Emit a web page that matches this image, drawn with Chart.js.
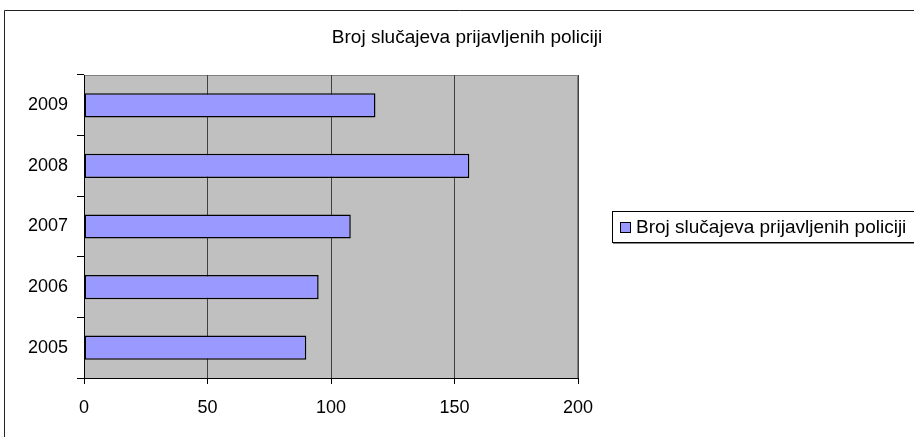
<!DOCTYPE html>
<html>
<head>
<meta charset="utf-8">
<script src="https://cdn.jsdelivr.net/npm/chart.js"></script>
<style>
  html, body { margin: 0; padding: 0; background: #fff; }
  #wrap { width: 914px; height: 437px; }
</style>
</head>
<body>
<div id="wrap"><canvas id="graf"></canvas></div>
<script>
// === Podaci ===
const naslov = "Broj slučajeva prijavljenih policiji";
const godine = ["2005", "2006", "2007", "2008", "2009"];
const slucajevi = [90, 95, 108, 156, 118];
const xTicks = [0, 50, 100, 150, 200];

const FONT = "Liberation Sans, Arial, sans-serif";

// pozadina i okvir (Excel stil)
const okvirPlugin = {
  id: "okvir",
  beforeDraw(chart) {
    const c = chart.ctx;
    const a = chart.chartArea;
    c.save();
    c.fillStyle = "#fff";
    c.fillRect(0, 0, chart.width, chart.height);
    // okvir grafikona
    c.strokeStyle = "#222";
    c.lineWidth = 1;
    c.beginPath();
    c.moveTo(4.5, chart.height + 5);
    c.lineTo(4.5, 10.5);
    c.lineTo(chart.width + 5, 10.5);
    c.stroke();
    // siva pozadina
    c.fillStyle = "#c0c0c0";
    c.fillRect(a.left, a.top, a.right - a.left, a.bottom - a.top);
    c.strokeStyle = "#808080";
    c.beginPath();
    c.moveTo(a.left, a.top + 0.5);
    c.lineTo(a.right - 0.5, a.top + 0.5);
    c.lineTo(a.right - 0.5, a.bottom);
    c.stroke();
    // naslov
    c.fillStyle = "#000";
    c.font = "19px " + FONT;
    c.textAlign = "center";
    c.textBaseline = "middle";
    c.fillText(naslov, 467, 38);
    c.restore();
  },
  afterDraw(chart) {
    // legenda
    const c = chart.ctx;
    c.save();
    c.fillStyle = "#fff";
    c.fillRect(612, 211, 330, 31);
    c.strokeStyle = "#000";
    c.lineWidth = 1;
    c.strokeRect(612.5, 211.5, 330, 31);
    c.strokeStyle = "#888";
    c.beginPath();
    c.moveTo(613, 243.5);
    c.lineTo(chart.width, 243.5);
    c.stroke();
    const ds = chart.data.datasets[0];
    c.fillStyle = ds.backgroundColor;
    c.fillRect(620, 222, 10, 10);
    c.strokeStyle = "#000";
    c.strokeRect(620.5, 222.5, 10, 10);
    c.fillStyle = "#000";
    c.font = "19px " + FONT;
    c.textAlign = "left";
    c.textBaseline = "middle";
    c.fillText(ds.label, 636, 228);
    c.restore();
  }
};

new Chart(document.getElementById("graf"), {
  type: "bar",
  data: {
    labels: godine,
    datasets: [{
      label: naslov,
      data: slucajevi,
      backgroundColor: "#9999ff",
      borderColor: "#000",
      borderWidth: 1.5,
      borderSkipped: false,
      barPercentage: 0.4,
      categoryPercentage: 1
    }]
  },
  options: {
    indexAxis: "y",
    responsive: true,
    maintainAspectRatio: false,
    animation: false,
    layout: { padding: { top: 75, right: 336, left: 0, bottom: 0 } },
    plugins: {
      legend: { display: false },
      title: { display: false },
      tooltip: { enabled: false }
    },
    scales: {
      x: {
        min: 0,
        max: 200,
        afterBuildTicks: s => { s.ticks = xTicks.map(v => ({ value: v })); },
        afterFit: s => { s.height = 59; },
        grid: {
          color: "#404040",
          tickColor: "#000",
          tickLength: 6,
          lineWidth: 1
        },
        border: { color: "#000", width: 1 },
        ticks: {
          color: "#000",
          font: { family: FONT, size: 18 },
          padding: 13,
          maxRotation: 0
        }
      },
      y: {
        reverse: true,
        afterFit: s => { s.width = 84; },
        grid: {
          offset: true,
          drawOnChartArea: false,
          tickColor: "#000",
          tickLength: 7
        },
        border: { color: "#000", width: 1 },
        ticks: {
          color: "#000",
          font: { family: FONT, size: 18 },
          padding: 9
        }
      }
    }
  },
  plugins: [okvirPlugin]
});
</script>
</body>
</html>
